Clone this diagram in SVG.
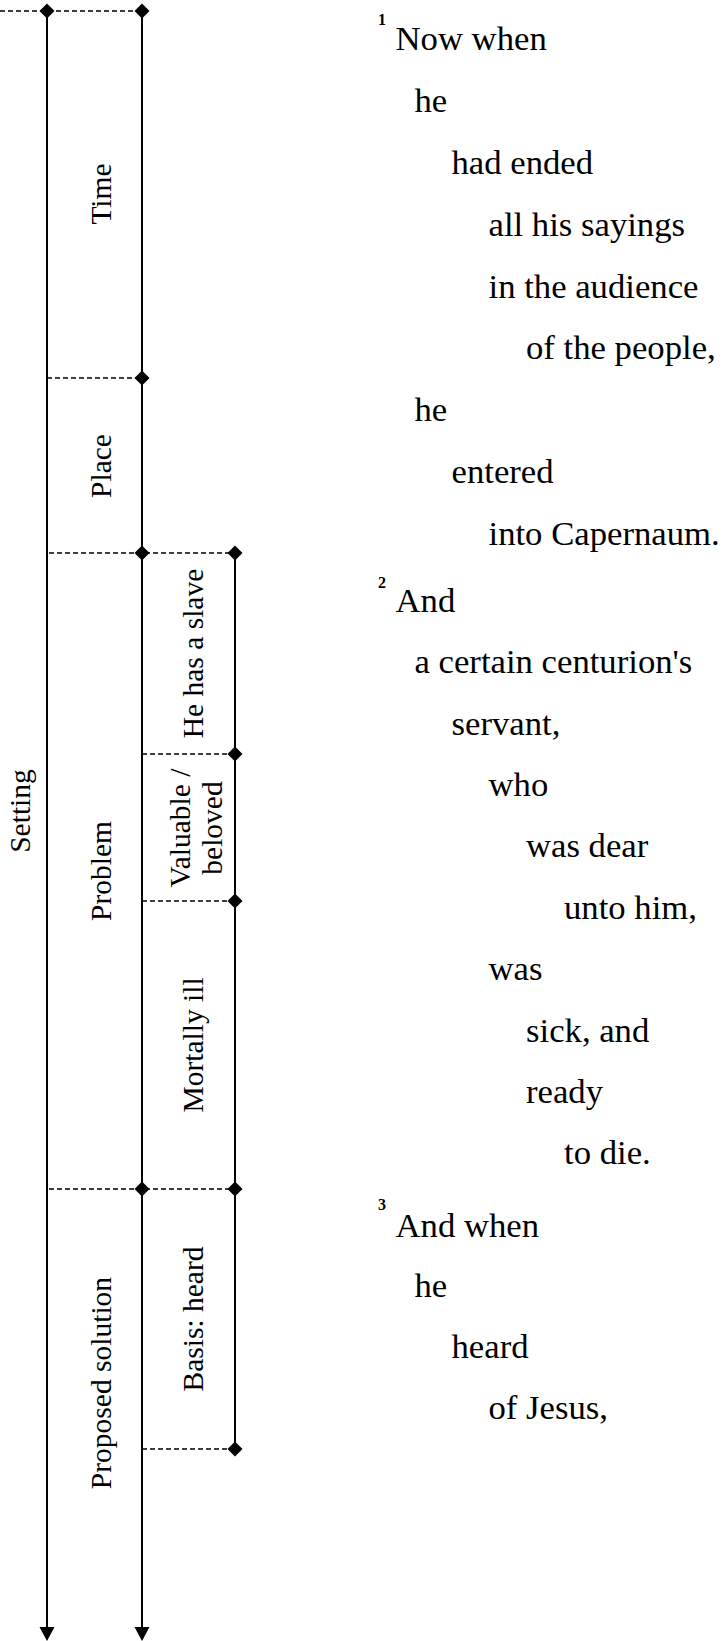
<svg xmlns="http://www.w3.org/2000/svg" width="725" height="1641" viewBox="0 0 725 1641">
<defs>
<style>
.ax{stroke:#000;stroke-width:2;fill:none}
.ds{stroke:#000;stroke-width:1.3;stroke-dasharray:5 3;fill:none}
.dm{fill:#000}
.lb{font-family:"Liberation Serif",serif;font-size:29.5px;fill:#000;text-anchor:middle}
.tx{font-family:"Liberation Serif",serif;font-size:34.7px;fill:#000}
.vn{font-family:"Liberation Serif",serif;font-size:16px;font-weight:bold;fill:#000}
</style>
<path id="dia" d="M0,-7.5 L7.5,0 L0,7.5 L-7.5,0 Z"/>
<path id="arr" d="M-7.5,-14 L7.5,-14 L0,0 Z"/>
</defs>
<rect width="725" height="1641" fill="#fff"/>
<g id="connectors">
<line class="ax" x1="47" y1="11" x2="47" y2="1628"/>
<line class="ax" x1="142" y1="11" x2="142" y2="1628"/>
<line class="ax" x1="235" y1="553" x2="235" y2="1449"/>
<use href="#arr" x="47" y="1641" class="dm"/>
<use href="#arr" x="142" y="1641" class="dm"/>
<line class="ds" x1="0" y1="11" x2="142" y2="11"/>
<line class="ds" x1="47" y1="378" x2="142" y2="378"/>
<line class="ds" x1="49" y1="553" x2="235" y2="553"/>
<line class="ds" x1="142" y1="754" x2="235" y2="754"/>
<line class="ds" x1="142" y1="901" x2="235" y2="901"/>
<line class="ds" x1="49" y1="1189" x2="235" y2="1189"/>
<line class="ds" x1="142" y1="1449" x2="235" y2="1449"/>
<use href="#dia" x="47" y="11" class="dm"/>
<use href="#dia" x="142" y="11" class="dm"/>
<use href="#dia" x="142" y="378" class="dm"/>
<use href="#dia" x="142" y="553" class="dm"/>
<use href="#dia" x="235" y="553" class="dm"/>
<use href="#dia" x="235" y="754" class="dm"/>
<use href="#dia" x="235" y="901" class="dm"/>
<use href="#dia" x="142" y="1189" class="dm"/>
<use href="#dia" x="235" y="1189" class="dm"/>
<use href="#dia" x="235" y="1449" class="dm"/>
</g>
<g id="setting"><text class="lb" transform="translate(30,811) rotate(-90)">Setting</text></g>
<g id="time"><text class="lb" transform="translate(111,194) rotate(-90)">Time</text></g>
<g id="place"><text class="lb" transform="translate(111,466) rotate(-90)">Place</text></g>
<g id="problem"><text class="lb" transform="translate(111,871) rotate(-90)">Problem</text></g>
<g id="proposed-solution"><text class="lb" transform="translate(111,1383) rotate(-90)">Proposed solution</text></g>
<g id="has-slave"><text class="lb" transform="translate(203,653.5) rotate(-90)">He has a slave</text></g>
<g id="valuable"><text class="lb" transform="translate(190,828) rotate(-90)"><tspan x="0" y="0">Valuable /</tspan><tspan x="0" dy="31.7">beloved</tspan></text></g>
<g id="mortally-ill"><text class="lb" transform="translate(203,1045) rotate(-90)">Mortally ill</text></g>
<g id="basis-heard"><text class="lb" transform="translate(203,1319) rotate(-90)">Basis: heard</text></g>
<g id="verse1">
<text class="vn" x="378" y="25">1</text>
<text class="tx" x="395.5" y="50">Now when</text>
<text class="tx" x="414.5" y="111.9">he</text>
<text class="tx" x="451.5" y="173.8">had ended</text>
<text class="tx" x="488.5" y="235.6">all his sayings</text>
<text class="tx" x="488.5" y="297.5">in the audience</text>
<text class="tx" x="526" y="359.4">of the people,</text>
<text class="tx" x="414.5" y="421.3">he</text>
<text class="tx" x="451.5" y="483.1">entered</text>
<text class="tx" x="488.5" y="545">into Capernaum.</text>
</g>
<g id="verse2">
<text class="vn" x="378" y="588">2</text>
<text class="tx" x="395.5" y="611.7">And</text>
<text class="tx" x="414.5" y="673.1">a certain centurion's</text>
<text class="tx" x="451.5" y="734.5">servant,</text>
<text class="tx" x="488.5" y="795.9">who</text>
<text class="tx" x="526" y="857.3">was dear</text>
<text class="tx" x="564" y="918.7">unto him,</text>
<text class="tx" x="488.5" y="980.1">was</text>
<text class="tx" x="526" y="1041.5">sick, and</text>
<text class="tx" x="526" y="1102.9">ready</text>
<text class="tx" x="564" y="1164.3">to die.</text>
</g>
<g id="verse3">
<text class="vn" x="378" y="1210">3</text>
<text class="tx" x="395.5" y="1236.7">And when</text>
<text class="tx" x="414.5" y="1297.3">he</text>
<text class="tx" x="451.5" y="1357.9">heard</text>
<text class="tx" x="488.5" y="1418.5">of Jesus,</text>
</g>
</svg>
